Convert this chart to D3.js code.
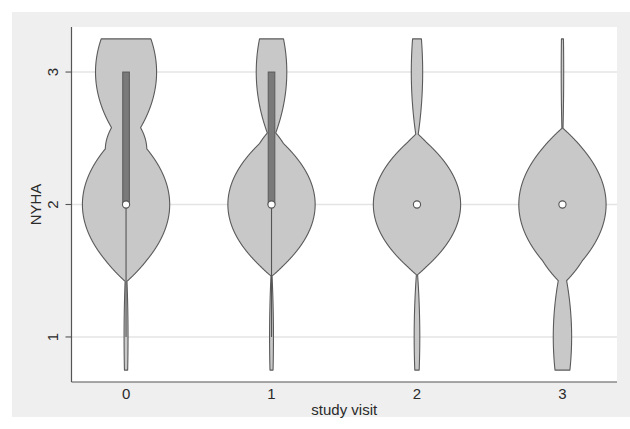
<!DOCTYPE html>
<html>
<head>
<meta charset="utf-8">
<script src="https://cdn.jsdelivr.net/npm/d3@7"></script>
<style>
  html, body { margin: 0; padding: 0; background: #ffffff; }
  svg { display: block; font-family: "Liberation Sans", Arial, Helvetica, sans-serif; }
</style>
</head>
<body>
<svg id="chart" width="630" height="429"></svg>
<script>
// Study visits on the x axis
const visits = [0, 1, 2, 3];
// Share of patients (%) in each NYHA class at each visit
const pctClass1 = [2.6, 3.2, 5.4, 17.0];
const pctClass2 = [57.3, 71.7, 83.7, 80.8];
const pctClass3 = [40.1, 25.1, 10.9, 2.3];
const nyhaClasses = [1, 2, 3];
// Kernel bandwidth used for each visit's density
const bandwidths = [0.58, 0.54, 0.53, 0.575];
// Box summary per visit
const medians = [2, 2, 2, 2];
const q1s = [2, 2, 2, 2];
const q3s = [3, 3, 2, 2];
const whiskerLow = [1, 1, 2, 2];
const whiskerHigh = [3, 3, 2, 2];
// Axis ticks
const yTicks = [1, 2, 3];
const xTicks = [0, 1, 2, 3];

const svg = d3.select("#chart");
const W = 630, H = 429;

// Outer panel
svg.append("rect").attr("x", 0).attr("y", 0).attr("width", W).attr("height", H).attr("fill", "#ffffff");
svg.append("rect").attr("x", 12).attr("y", 12).attr("width", W - 12).attr("height", 405).attr("fill", "#efefef");

const plot = { left: 71.5, right: 617, top: 27, bottom: 382 };
svg.append("rect")
  .attr("x", plot.left).attr("y", plot.top)
  .attr("width", plot.right - plot.left).attr("height", plot.bottom - plot.top)
  .attr("fill", "#ffffff");

const x = d3.scaleLinear().domain([-0.375, 3.375]).range([plot.left, plot.right]);
const y = d3.scaleLinear().domain([0.66, 3.34]).range([plot.bottom, plot.top]);

// Gridlines
svg.append("g").selectAll("line").data(yTicks).join("line")
  .attr("x1", plot.left).attr("x2", plot.right)
  .attr("y1", d => y(d)).attr("y2", d => y(d))
  .attr("stroke", "#e4e4e4").attr("stroke-width", 1.5);

// Epanechnikov kernel density over the NYHA classes
const epan = u => Math.abs(u) <= 1 ? 0.75 * (1 - u * u) : 0;
const grid = d3.range(0, 501).map(i => 0.75 + i * 0.005);
const maxHalf = 0.3; // widest point of each violin, in visit units

visits.forEach((v, i) => {
  const weights = [pctClass1[i], pctClass2[i], pctClass3[i]];
  const h = bandwidths[i];
  const dens = grid.map(t => ({
    t,
    d: d3.sum(nyhaClasses, (c, k) => weights[k] * epan((t - c) / h)) / h
  }));
  const dmax = d3.max(dens, p => p.d);
  const wScale = d3.scaleLinear().domain([0, dmax]).range([0, x(maxHalf) - x(0)]);

  const area = d3.area()
    .y(p => y(p.t))
    .x0(p => x(v) - wScale(p.d))
    .x1(p => x(v) + wScale(p.d))
    .curve(d3.curveLinear);

  svg.append("path").datum(dens)
    .attr("d", area)
    .attr("fill", "#c8c8c8")
    .attr("stroke", "#5a5a5a")
    .attr("stroke-width", 1.1)
    .attr("stroke-linejoin", "round");

  // Whisker
  if (whiskerLow[i] !== whiskerHigh[i]) {
    svg.append("line")
      .attr("x1", x(v)).attr("x2", x(v))
      .attr("y1", y(whiskerLow[i])).attr("y2", y(whiskerHigh[i]))
      .attr("stroke", "#555555").attr("stroke-width", 1.1);
  }
  // Interquartile box
  if (q3s[i] > q1s[i]) {
    svg.append("rect")
      .attr("x", x(v) - 3.3).attr("width", 6.6)
      .attr("y", y(q3s[i])).attr("height", y(q1s[i]) - y(q3s[i]))
      .attr("fill", "#7a7a7a").attr("stroke", "#5a5a5a").attr("stroke-width", 1);
  }
  // Median marker
  svg.append("circle")
    .attr("cx", x(v)).attr("cy", y(medians[i])).attr("r", 3.6)
    .attr("fill", "#ffffff").attr("stroke", "#555555").attr("stroke-width", 1.1);
});

// Axes
const axisColor = "#555555";
svg.append("line")
  .attr("x1", plot.left).attr("x2", plot.left)
  .attr("y1", plot.top).attr("y2", plot.bottom)
  .attr("stroke", axisColor).attr("stroke-width", 1.2);
svg.append("line")
  .attr("x1", plot.left).attr("x2", plot.right)
  .attr("y1", plot.bottom).attr("y2", plot.bottom)
  .attr("stroke", axisColor).attr("stroke-width", 1.2);

const textColor = "#2a2a2a";

// Y ticks and rotated labels
const yg = svg.append("g");
yg.selectAll("line").data(yTicks).join("line")
  .attr("x1", plot.left - 6).attr("x2", plot.left)
  .attr("y1", d => y(d)).attr("y2", d => y(d))
  .attr("stroke", axisColor).attr("stroke-width", 1.1);
yg.selectAll("text").data(yTicks).join("text")
  .attr("transform", d => `translate(${plot.left - 14},${y(d)}) rotate(-90)`)
  .attr("text-anchor", "middle")
  .attr("font-size", 15).attr("fill", textColor)
  .text(d => d);

// X tick labels
svg.append("g").selectAll("text").data(xTicks).join("text")
  .attr("x", d => x(d)).attr("y", plot.bottom + 17)
  .attr("text-anchor", "middle")
  .attr("font-size", 15).attr("fill", textColor)
  .text(d => d);

// Axis titles
svg.append("text")
  .attr("x", (plot.left + plot.right) / 2).attr("y", plot.bottom + 33)
  .attr("text-anchor", "middle").attr("font-size", 15).attr("fill", textColor)
  .text("study visit");
svg.append("text")
  .attr("transform", `translate(${plot.left - 31},${y(2)}) rotate(-90)`)
  .attr("text-anchor", "middle").attr("font-size", 15).attr("fill", textColor)
  .text("NYHA");
</script>
</body>
</html>
